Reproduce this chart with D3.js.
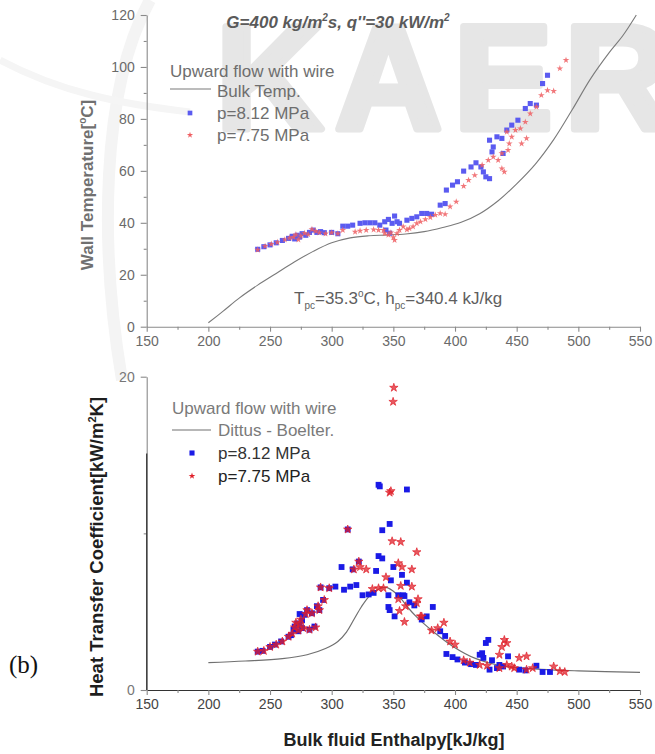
<!DOCTYPE html>
<html>
<head>
<meta charset="utf-8">
<script src="https://cdn.jsdelivr.net/npm/d3@7/dist/d3.min.js"></script>
<style>
  html, body { margin: 0; padding: 0; background: #fff; }
  svg { display: block; font-family: Arial, 'Liberation Sans', sans-serif; }
  .axis text { font-family: Arial, 'Liberation Sans', sans-serif; }
</style>
</head>
<body>
<div id="chart"></div>
<script>
// ---- data ----
const xTicks = [150, 200, 250, 300, 350, 400, 450, 500, 550];
const xMinor = [175, 225, 275, 325, 375, 425, 475, 525];
const tempTicks = [0, 20, 40, 60, 80, 100, 120];
const tempMinor = [10, 30, 50, 70, 90, 110];
const htcTicks = [0, 20];
const htcMinor = [10];

// [enthalpy kJ/kg, wall temperature C]
const wallBlue = [[240,29.8],[245,30.8],[250,31.5],[255,32.3],[260,33.2],[265,34],[268,34.8],[270,33.8],[272,35.2],[274,34.5],[276,35.8],[279,35.2],[282,36.3],[285,37.2],[288,36.3],[291,36.6],[294,36.2],[300,36.3],[305,35.8],[309,38.7],[313,38.7],[317,39.1],[323,39.8],[327,40],[331,40],[335,40],[339,39.1],[343,40.4],[344,37.2],[346,41.3],[347,36],[349,39.8],[351,42.6],[353,40.4],[355,39.8],[361,41],[365,41.7],[369,42.3],[373,43.6],[377,43.6],[381,43.3],[388,46.8],[392,47.4],[393,52.6],[398,54.5],[402,55.8],[407,59.9],[413,61.5],[417,63.1],[421,61.5],[423,59.6],[425,57.7],[428,57],[428,71.8],[430,67.3],[431,69.2],[434,73.1],[438,72.5],[439,66.7],[442,75.7],[446,77.6],[451,79.5],[457,84],[461,85.9],[466,85.3],[471,93.6],[475,96.8]];
const wallRed = [[240,29.6],[246,31],[251,31.8],[256,32.5],[262,33.5],[266,34.2],[269,34.5],[271,35.5],[273,33.5],[275,35],[278,36],[281,35.5],[284,37.5],[287,36.8],[290,36.2],[295,35.8],[300,36.2],[305,35.8],[309,37.2],[319,36.5],[323,36.9],[328,37.2],[334,37.4],[338,37.2],[342,37.2],[343,35.9],[346,35.3],[348,36.2],[350,34.4],[351,33.3],[353,35.9],[355,37.2],[358,38.5],[361,37.4],[363,37.8],[366,38.5],[369,39.8],[372,40.4],[376,41.3],[380,42.1],[384,43],[388,43.6],[392,43.3],[396,46.2],[401,48.1],[407,54.1],[411,56.4],[416,58.3],[422,62.2],[427,64.1],[431,65.4],[435,64.1],[438,60.9],[440,59.6],[438,66.7],[442,75],[443,68],[444,70.5],[446,73.1],[449,75.7],[453,76.3],[454,70.5],[457,78.8],[458,72.5],[461,82],[466,84.6],[470,89.1],[475,91],[480,90.7],[485,99.4],[490,102.6]];
const bulkTemp = [[200,1.5],[212,6],[225,11],[240,16],[255,20.5],[270,25],[285,29],[300,32.3],[315,34.2],[330,35],[345,35.3],[360,35.7],[375,36.6],[390,38.2],[405,40.2],[420,43.5],[435,48.5],[450,55],[465,62.5],[480,72],[495,83.5],[510,95.5],[525,105.5],[536,112],[547,120]];

// [enthalpy kJ/kg, heat transfer coefficient kW/m2K]
const htcBlue = [[240,2.45],[244,2.5],[250,2.75],[254,2.9],[259,3.1],[265,3.4],[267,3.5],[269,3.85],[270,4.05],[272,4.25],[273,3.75],[274,4.15],[274,4.85],[276,3.95],[276,4.45],[278,4.8],[280,5.1],[282,3.85],[284,4.9],[286,4.05],[288,5.35],[290,5.1],[291,6.55],[293,5.75],[298,6.5],[303,6.6],[308,7.85],[310,6.4],[313,10.25],[315,6.6],[317,7.7],[320,6.7],[322,8.2],[325,6.05],[330,6.1],[334,6.2],[336,7.6],[338,8.55],[338,13.1],[339,13],[341,10.2],[341,8.4],[346,6.05],[346,5.3],[347,5.1],[347,10.6],[348,7.0],[350,7.85],[351,4.7],[354,6.05],[357,7.35],[358,6.05],[359,6.0],[361,6.85],[361,12.8],[363,5.6],[367,5.4],[373,4.5],[377,4.7],[382,5.3],[388,3.75],[392,3.45],[393,2.3],[398,2.1],[402,1.95],[408,1.75],[413,1.65],[417,1.6],[420,2.25],[422,2.35],[423,2.05],[425,3.0],[427,3.2],[428,1.3],[430,1.9],[434,1.4],[436,1.6],[439,1.5],[443,2.15],[452,1.3],[457,1.25],[466,1.55],[471,1.15],[477,1.15]];
const htcRed = [[240,2.45],[245,2.5],[250,2.75],[255,2.9],[260,3.1],[265,3.4],[268,3.6],[270,4.0],[271,4.3],[273,3.8],[274,4.2],[275,4.5],[277,3.95],[279,4.85],[280,5.1],[282,3.85],[284,4.9],[287,4.0],[289,5.35],[290,5.1],[291,6.55],[294,5.75],[298,6.5],[313,10.25],[318,7.7],[322,8.2],[323,7.85],[328,7.7],[333,6.45],[338,6.5],[342,6.5],[344,7.2],[347,12.6],[348,12.7],[349,9.5],[349.8,18.4],[350.4,19.3],[354,8.1],[354,5.8],[355,5.05],[356,9.45],[356,6.65],[357,7.85],[359,4.35],[360,5.35],[365,7.7],[365,6.6],[369,5.55],[369,8.8],[370,5.8],[372,4.7],[373,4.7],[381,3.8],[386,3.95],[391,4.3],[396,3.1],[400,2.9],[407,1.9],[412,1.75],[420,1.6],[426,1.55],[436,2.25],[436,1.4],[438,2.75],[440,3.2],[442,3.0],[442,1.6],[446,1.5],[448,1.4],[452,2.05],[458,2.15],[458,1.3],[463,1.4],[480,1.5],[485,1.2],[489,1.15]];
const dittusBoelter = [[200,1.75],[230,1.85],[260,2.0],[280,2.25],[295,2.65],[305,3.1],[312,3.7],[318,4.5],[324,5.3],[330,5.95],[337,6.4],[344,6.55],[350,6.3],[356,5.85],[362,5.25],[369,4.65],[382,3.75],[398,2.8],[417,2.0],[437,1.55],[470,1.32],[500,1.22],[550,1.13]];

// ---- layout ----
const width = 655, height = 754;
const svg = d3.select('#chart').append('svg')
    .attr('width', width)
    .attr('height', height);

const x = d3.scaleLinear().domain([150, 550]).range([146.7, 640]);
const yTemp = d3.scaleLinear().domain([0, 120]).range([326.7, 15]);
const yHtc = d3.scaleLinear().domain([0, 20]).range([690, 376.7]);

// watermark behind everything
const wm = svg.append('g').attr('class', 'watermark');
wm.append('path')
    .attr('d', 'M150,0 C100,90 100,250 122,380')
    .attr('fill', 'none').attr('stroke', '#f4f4f4').attr('stroke-width', 12);
wm.append('path')
    .attr('d', 'M0,60 C60,92 120,104 190,112')
    .attr('fill', 'none').attr('stroke', '#f5f5f5').attr('stroke-width', 7);
wm.append('text')
    .attr('x', 216).attr('y', 129)
    .attr('font-size', 148).attr('font-weight', 'bold')
    .attr('letter-spacing', 12)
    .attr('fill', '#e6e6e6')
    .attr('stroke', '#e6e6e6')
    .attr('stroke-width', 7)
    .attr('stroke-linejoin', 'round')
    .text('KAER');

function drawAxes(g, y, yMajor, yMinorVals, opts) {
    const xAxis = g.append('g').attr('class', 'axis')
        .attr('transform', `translate(0,${y(0)})`)
        .call(d3.axisBottom(x).tickValues(xTicks).tickSize(5).tickSizeOuter(0).tickPadding(4));
    g.append('g').attr('class', 'axis minor')
        .attr('transform', `translate(0,${y(0)})`)
        .call(d3.axisBottom(x).tickValues(xMinor).tickSize(3).tickFormat(''))
        .select('.domain').remove();
    g.append('g').attr('class', 'axis')
        .attr('transform', `translate(${x(150)},0)`)
        .call(d3.axisLeft(y).tickValues(yMajor).tickSize(6).tickSizeOuter(0).tickPadding(6));
    g.append('g').attr('class', 'axis minor')
        .attr('transform', `translate(${x(150)},0)`)
        .call(d3.axisLeft(y).tickValues(yMinorVals).tickSize(3).tickFormat(''))
        .select('.domain').remove();

    g.selectAll('.axis path, .axis line').attr('stroke', opts.line).attr('stroke-width', 1.1);
    g.selectAll('.axis text').attr('font-size', 14).attr('fill', opts.text);
    xAxis.selectAll('text').attr('fill', opts.xText || opts.text);
    if (opts.xLine) xAxis.select('.domain').attr('stroke', opts.xLine);
}

const lineGen = (y) => d3.line().x(d => x(d[0])).y(d => y(d[1])).curve(d3.curveCatmullRom.alpha(0.5));
const square = (s) => d3.symbol(d3.symbolSquare, s)();
const star = (s) => d3.symbol(d3.symbolStar, s)();

// ---- top panel: wall temperature ----
const topPanel = svg.append('g');
drawAxes(topPanel, yTemp, tempTicks, tempMinor, { line: '#8a8a8a', text: '#6a6a6a' });

topPanel.append('path')
    .datum(bulkTemp)
    .attr('d', lineGen(yTemp))
    .attr('fill', 'none')
    .attr('stroke', '#7a7a7a')
    .attr('stroke-width', 1.1);

topPanel.append('g').selectAll('path')
    .data(wallBlue)
    .enter().append('path')
    .attr('transform', d => `translate(${x(d[0])},${yTemp(d[1])})`)
    .attr('d', square(26))
    .attr('fill', '#5b5bf0');

topPanel.append('g').selectAll('path')
    .data(wallRed)
    .enter().append('path')
    .attr('transform', d => `translate(${x(d[0])},${yTemp(d[1])})`)
    .attr('d', star(14))
    .attr('fill', '#ef5f63')
    .attr('fill-opacity', 0.85);

// title
const title = topPanel.append('text')
    .attr('x', 338).attr('y', 28)
    .attr('text-anchor', 'middle')
    .attr('font-size', 17).attr('font-weight', 'bold').attr('font-style', 'italic')
    .attr('fill', '#5a5a5a');
title.append('tspan').text('G=400 kg/m');
title.append('tspan').attr('font-size', 10).attr('dy', -7).text('2');
title.append('tspan').attr('dy', 7).text('s, q\'\'=30 kW/m');
title.append('tspan').attr('font-size', 10).attr('dy', -7).text('2');

// legend
const legTop = topPanel.append('g').attr('font-size', 17).attr('fill', '#6e6e6e');
legTop.append('text').attr('x', 170).attr('y', 77).text('Upward flow with wire');
legTop.append('line').attr('x1', 170).attr('x2', 211).attr('y1', 89).attr('y2', 89)
    .attr('stroke', '#7a7a7a').attr('stroke-width', 1.1);
legTop.append('text').attr('x', 217).attr('y', 97).text('Bulk Temp.');
legTop.append('path').attr('transform', 'translate(190,113)').attr('d', square(22)).attr('fill', '#5b5bf0');
legTop.append('text').attr('x', 217).attr('y', 119).text('p=8.12 MPa');
legTop.append('path').attr('transform', 'translate(190,135)').attr('d', star(12)).attr('fill', '#ef5f63');
legTop.append('text').attr('x', 217).attr('y', 141).text('p=7.75 MPa');

// pseudo-critical note
const note = topPanel.append('text')
    .attr('x', 294).attr('y', 304)
    .attr('font-size', 17).attr('fill', '#5e5e5e');
note.append('tspan').text('T');
note.append('tspan').attr('font-size', 10).attr('dy', 5).text('pc');
note.append('tspan').attr('dy', -5).text('=35.3');
note.append('tspan').attr('font-size', 10).attr('dy', -7).text('o');
note.append('tspan').attr('dy', 7).text('C, h');
note.append('tspan').attr('font-size', 10).attr('dy', 5).text('pc');
note.append('tspan').attr('dy', -5).text('=340.4 kJ/kg');

// y title
const yt1 = topPanel.append('text')
    .attr('transform', 'translate(93,185) rotate(-90)')
    .attr('text-anchor', 'middle')
    .attr('font-size', 17).attr('font-weight', 'bold')
    .attr('fill', '#707070');
yt1.append('tspan').text('Wall Temperature[');
yt1.append('tspan').attr('font-size', 10).attr('dy', -7).text('o');
yt1.append('tspan').attr('dy', 7).text('C]');

// ---- bottom panel: heat transfer coefficient ----
const botPanel = svg.append('g');
drawAxes(botPanel, yHtc, htcTicks, htcMinor, { line: '#8a8a8a', text: '#777', xText: '#444', xLine: '#333' });
// darker lower part of the left axis, as in the scan
botPanel.append('line')
    .attr('x1', x(150)).attr('x2', x(150))
    .attr('y1', yHtc(15.1)).attr('y2', yHtc(0))
    .attr('stroke', '#333').attr('stroke-width', 1.2);

botPanel.append('path')
    .datum(dittusBoelter)
    .attr('d', lineGen(yHtc))
    .attr('fill', 'none')
    .attr('stroke', '#707070')
    .attr('stroke-width', 1.2);

botPanel.append('g').selectAll('path')
    .data(htcBlue)
    .enter().append('path')
    .attr('transform', d => `translate(${x(d[0])},${yHtc(d[1])})`)
    .attr('d', square(34))
    .attr('fill', '#1a1ae6');

botPanel.append('g').selectAll('path')
    .data(htcRed)
    .enter().append('path')
    .attr('transform', d => `translate(${x(d[0])},${yHtc(d[1])})`)
    .attr('d', star(22))
    .attr('fill', '#e0202a')
    .attr('fill-opacity', 0.75)
    .attr('stroke', '#e0202a')
    .attr('stroke-opacity', 0.75)
    .attr('stroke-width', 0.9);

const legBot = botPanel.append('g').attr('font-size', 17);
legBot.append('text').attr('x', 172).attr('y', 414).attr('fill', '#7a7a7a').text('Upward flow with wire');
legBot.append('line').attr('x1', 172).attr('x2', 211).attr('y1', 430).attr('y2', 430)
    .attr('stroke', '#707070').attr('stroke-width', 1.1);
legBot.append('text').attr('x', 218).attr('y', 436).attr('fill', '#7a7a7a').text('Dittus - Boelter.');
legBot.append('path').attr('transform', 'translate(192,453)').attr('d', square(26)).attr('fill', '#1a1ae6');
legBot.append('text').attr('x', 218).attr('y', 459).attr('fill', '#333').text('p=8.12 MPa');
legBot.append('path').attr('transform', 'translate(192,476)').attr('d', star(14)).attr('fill', '#e0202a');
legBot.append('text').attr('x', 218).attr('y', 482).attr('fill', '#222').text('p=7.75 MPa');

const yt2 = botPanel.append('text')
    .attr('transform', 'translate(103,547) rotate(-90)')
    .attr('text-anchor', 'middle')
    .attr('font-size', 18.5).attr('font-weight', 'bold')
    .attr('fill', '#1e1e1e');
yt2.append('tspan').text('Heat Transfer Coefficient[kW/m');
yt2.append('tspan').attr('font-size', 11).attr('dy', -7).text('2');
yt2.append('tspan').attr('dy', 7).text('K]');

botPanel.append('text')
    .attr('x', 394).attr('y', 746)
    .attr('text-anchor', 'middle')
    .attr('font-size', 18).attr('font-weight', 'bold')
    .attr('fill', '#222')
    .text('Bulk fluid Enthalpy[kJ/kg]');

svg.append('text')
    .attr('x', 9).attr('y', 673)
    .attr('font-family', "'Liberation Serif', 'DejaVu Serif', serif")
    .attr('font-size', 25)
    .attr('fill', '#111')
    .text('(b)');
</script>
</body>
</html>
